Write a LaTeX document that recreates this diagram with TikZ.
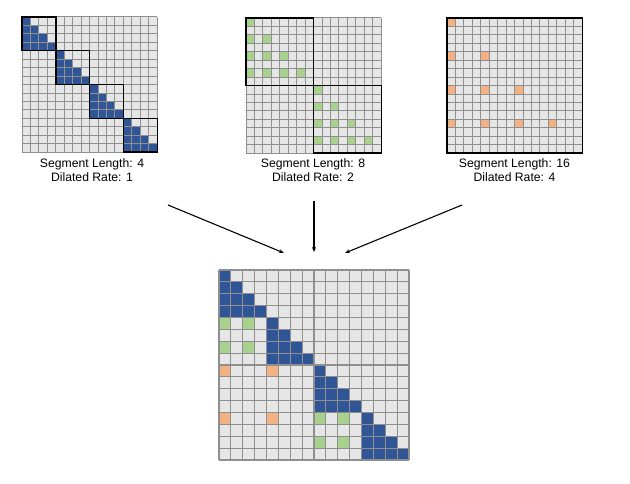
\documentclass[tikz,border=0pt]{standalone}
\usepackage{fontspec}
\setmainfont{Liberation Sans}
\usetikzlibrary{arrows.meta}

\definecolor{cellgray}{HTML}{E7E6E6}
\definecolor{linegray}{HTML}{8F8F8F}
\definecolor{seglocal}{HTML}{2F5597}
\definecolor{segmid}{HTML}{A9D18E}
\definecolor{segwide}{HTML}{F4B183}

\tikzset{
  gridline/.style={draw=linegray, line width=1pt},
  blockframe/.style={draw=black, line width=1.4pt},
  caption/.style={align=center, inner sep=0pt,
    font=\fontsize{12.2}{14.5}\selectfont},
  maskarrow/.style={-{Stealth[length=5pt,width=4pt]}, line width=1.1pt},
}

% 16 x 16 cell lines
\newcommand{\celllines}{%
  \foreach \k in {0,...,16} {
    \draw[gridline] (\k,0) -- (\k,16);
    \draw[gridline] (0,\k) -- (16,\k);
  }}

\begin{document}
\begin{tikzpicture}[x=1pt, y=-1pt]

    \useasboundingbox (0,0) rectangle (630,484);

    % Segment length 4, rate 1
    \begin{scope}[shift={(22,17)}, x=8.45pt, y=-8.45pt]
      \fill[cellgray] (0,0) rectangle (16,16);
      \foreach \b in {0,4,8,12}
        \foreach \i in {0,...,3}
          \foreach \j in {0,...,\i}
            \fill[seglocal] (\b+\j,\b+\i) rectangle ++(1,1);
      \celllines
      \foreach \b in {0,4,8,12}
        \draw[blockframe] (\b,\b) rectangle ++(4,4);
    \end{scope}

    % Segment length 8, rate 2
    \begin{scope}[shift={(246,18)}, x=8.45pt, y=-8.45pt]
      \fill[cellgray] (0,0) rectangle (16,16);
      \foreach \b in {0,8}
        \foreach \i in {0,...,3}
          \foreach \j in {0,...,\i}
            \fill[segmid] (\b+2*\j,\b+2*\i) rectangle ++(1,1);
      \celllines
      \foreach \b in {0,8}
        \draw[blockframe] (\b,\b) rectangle ++(8,8);
    \end{scope}

    % Segment length 16, rate 4
    \begin{scope}[shift={(447,18)}, x=8.45pt, y=-8.45pt]
      \fill[cellgray] (0,0) rectangle (16,16);
      \foreach \i in {0,...,3}
        \foreach \j in {0,...,\i}
          \fill[segwide] (4*\j,4*\i) rectangle ++(1,1);
      \celllines
      \draw[blockframe] (0,0) rectangle (16,16);
    \end{scope}

    % Labels
    \node[caption] (label4) at (92,170) {Segment Length: 4\\Dilated Rate: 1};
    \node[caption] (label8) at (313,170) {Segment Length: 8\\Dilated Rate: 2};
    \node[caption] (label16) at (514.5,170) {Segment Length: 16\\Dilated Rate: 4};

    % Mixed mask
    \begin{scope}[shift={(219,270)}, x=11.875pt, y=-11.875pt,
        gridline/.append style={line width=1.2pt}]
      \fill[cellgray] (0,0) rectangle (16,16);
      \foreach \i in {0,...,3}
        \foreach \j in {0,...,\i}
          \fill[segwide] (4*\j,4*\i) rectangle ++(1,1);
      \foreach \b in {0,8}
        \foreach \i in {0,...,3}
          \foreach \j in {0,...,\i}
            \fill[segmid] (\b+2*\j,\b+2*\i) rectangle ++(1,1);
      \foreach \b in {0,4,8,12}
        \foreach \i in {0,...,3}
          \foreach \j in {0,...,\i}
            \fill[seglocal] (\b+\j,\b+\i) rectangle ++(1,1);
      \celllines
    \end{scope}

    % Arrows
    \coordinate (from4) at (168,205);
    \coordinate (from8) at (314,201);
    \coordinate (from16) at (462,205);
    \coordinate (to4) at (284,253);
    \coordinate (to8) at (314,252);
    \coordinate (to16) at (345,253);
    \draw[maskarrow] (from4) -- (to4);
    \draw[maskarrow] (from8) -- (to8);
    \draw[maskarrow] (from16) -- (to16);

  \end{tikzpicture}
\end{document}
